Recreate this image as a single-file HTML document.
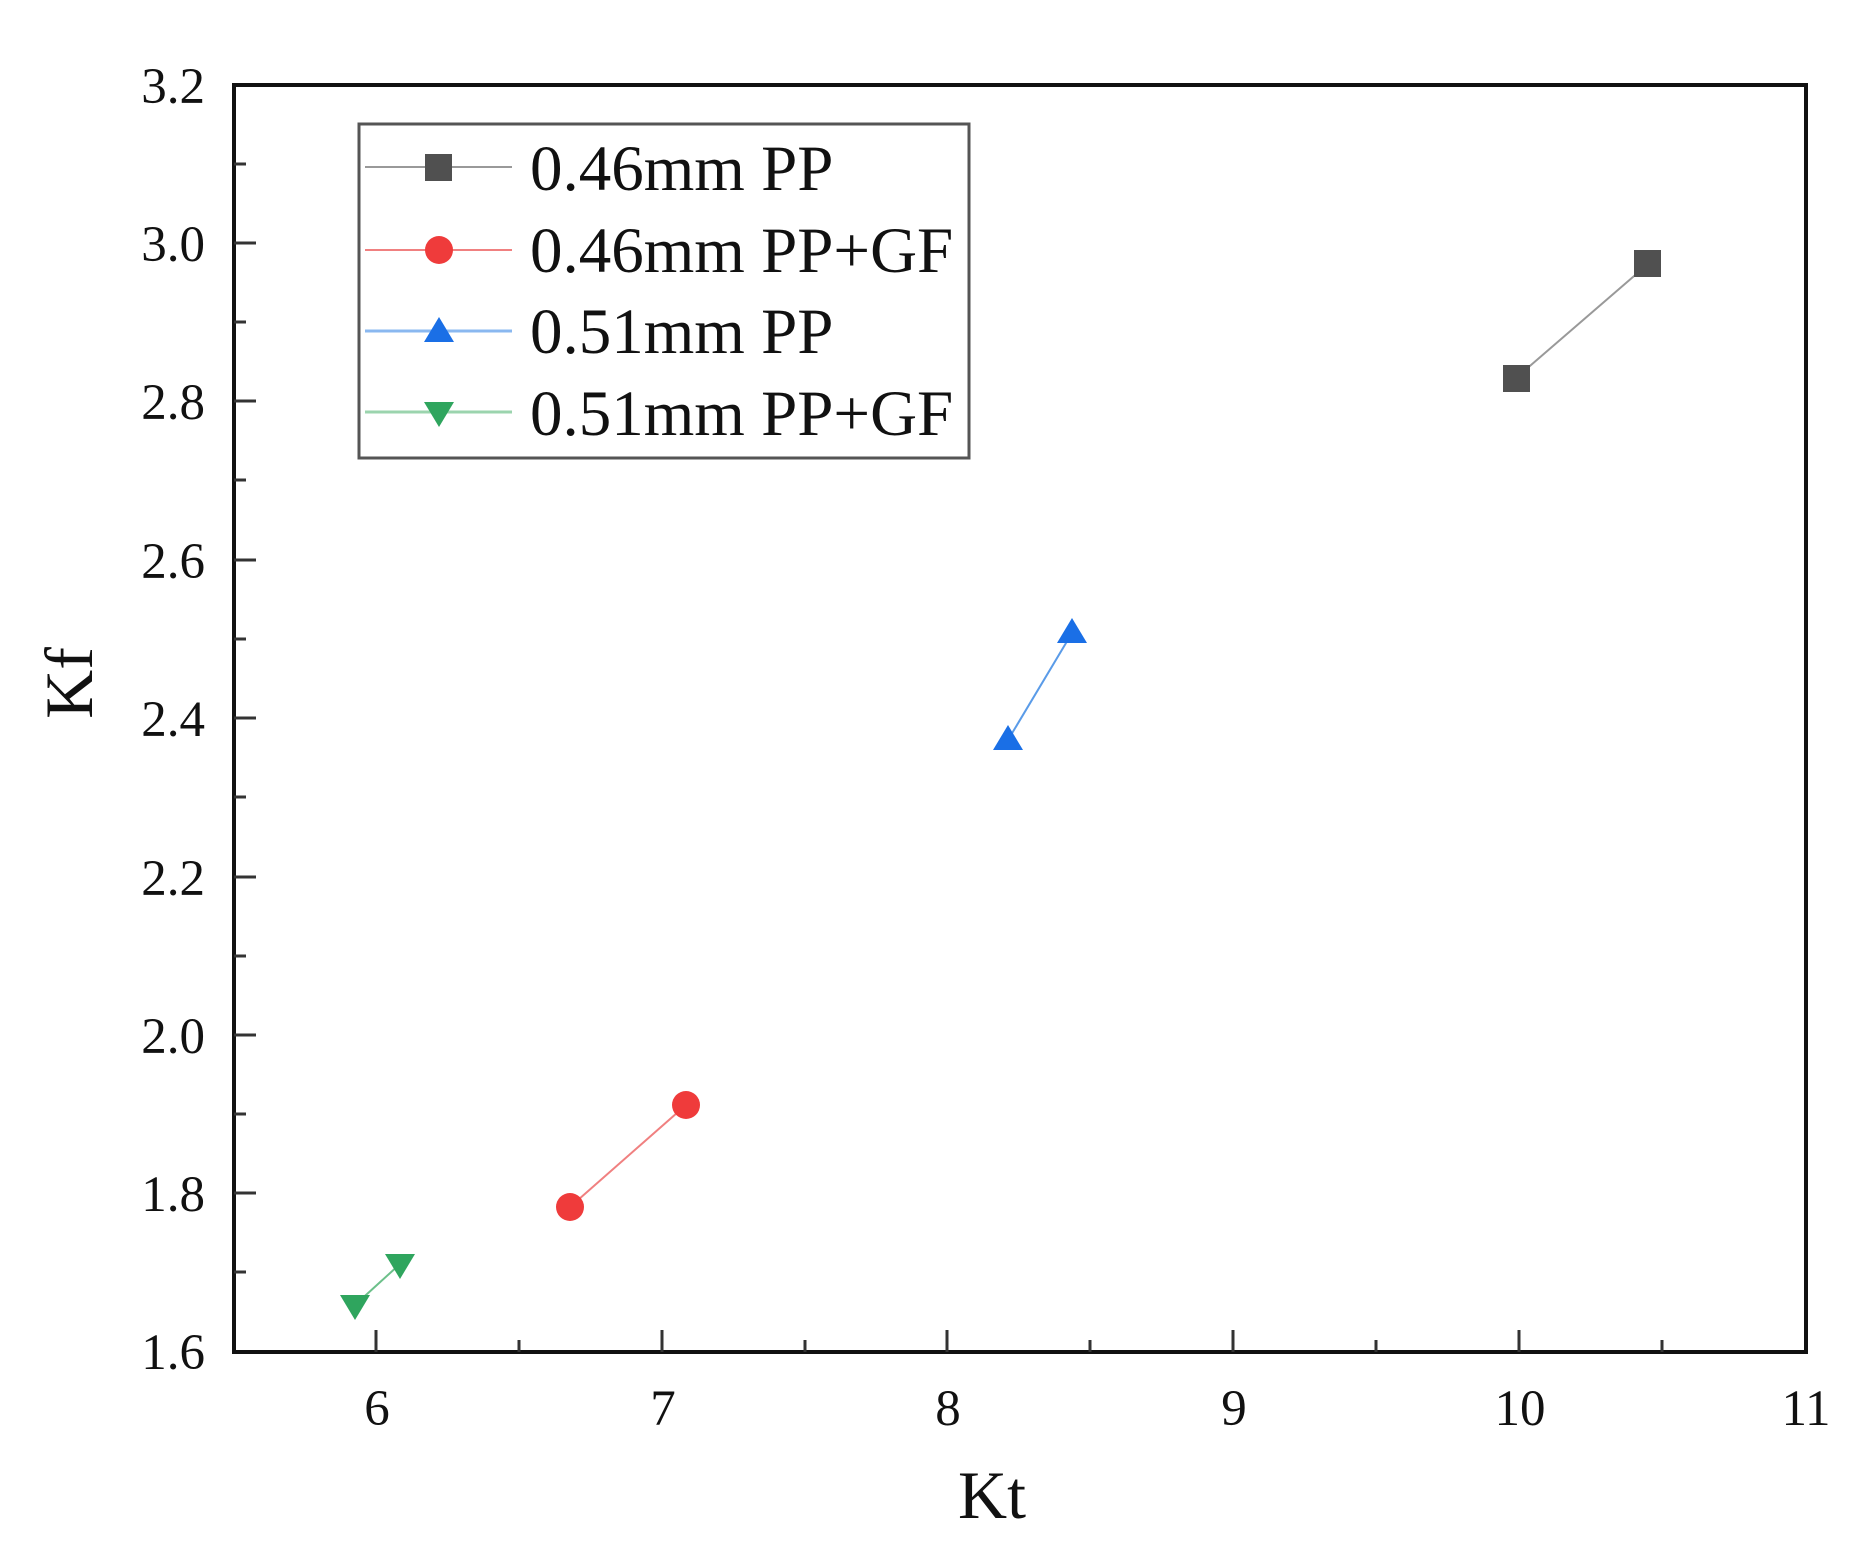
<!DOCTYPE html>
<html><head><meta charset="utf-8"><style>
html,body{margin:0;padding:0;background:#fff;}
svg{display:block;}
text{font-family:"Liberation Serif",serif;fill:#111;}
</style></head><body>
<svg width="1854" height="1547" viewBox="0 0 1854 1547" xmlns="http://www.w3.org/2000/svg">
<rect width="1854" height="1547" fill="#fff"/>
<rect x="234" y="85" width="1572" height="1267" fill="none" stroke="#111" stroke-width="4"/>
<g stroke="#333" stroke-width="3">
<line x1="376" y1="1352" x2="376" y2="1330"/>
<line x1="662" y1="1352" x2="662" y2="1330"/>
<line x1="947" y1="1352" x2="947" y2="1330"/>
<line x1="1233" y1="1352" x2="1233" y2="1330"/>
<line x1="1519" y1="1352" x2="1519" y2="1330"/>
<line x1="519" y1="1352" x2="519" y2="1340"/>
<line x1="805" y1="1352" x2="805" y2="1340"/>
<line x1="1090" y1="1352" x2="1090" y2="1340"/>
<line x1="1376" y1="1352" x2="1376" y2="1340"/>
<line x1="1662" y1="1352" x2="1662" y2="1340"/>
<line x1="234" y1="1193" x2="256" y2="1193"/>
<line x1="234" y1="1035" x2="256" y2="1035"/>
<line x1="234" y1="877" x2="256" y2="877"/>
<line x1="234" y1="718" x2="256" y2="718"/>
<line x1="234" y1="560" x2="256" y2="560"/>
<line x1="234" y1="401" x2="256" y2="401"/>
<line x1="234" y1="243" x2="256" y2="243"/>
<line x1="234" y1="1272" x2="246" y2="1272"/>
<line x1="234" y1="1114" x2="246" y2="1114"/>
<line x1="234" y1="956" x2="246" y2="956"/>
<line x1="234" y1="797" x2="246" y2="797"/>
<line x1="234" y1="639" x2="246" y2="639"/>
<line x1="234" y1="480" x2="246" y2="480"/>
<line x1="234" y1="322" x2="246" y2="322"/>
<line x1="234" y1="164" x2="246" y2="164"/>
</g>
<g font-size="51" text-anchor="end">
<text x="205" y="1369">1.6</text>
<text x="205" y="1211">1.8</text>
<text x="205" y="1053">2.0</text>
<text x="205" y="895">2.2</text>
<text x="205" y="736">2.4</text>
<text x="205" y="578">2.6</text>
<text x="205" y="419">2.8</text>
<text x="205" y="261">3.0</text>
<text x="205" y="103">3.2</text>
</g>
<g font-size="51" text-anchor="middle">
<text x="377" y="1425">6</text>
<text x="663" y="1425">7</text>
<text x="948" y="1425">8</text>
<text x="1234" y="1425">9</text>
<text x="1520" y="1425">10</text>
<text x="1806" y="1425">11</text>
</g>
<text x="992" y="1518" font-size="68" text-anchor="middle">Kt</text>
<text transform="translate(92,683) rotate(-90)" font-size="68" text-anchor="middle">Kf</text>
<line x1="1516" y1="378" x2="1648" y2="264" stroke="#999" stroke-width="2"/>
<rect x="1503" y="365" width="27" height="27" fill="#505050"/>
<rect x="1634" y="250" width="27" height="27" fill="#505050"/>
<line x1="570" y1="1207" x2="686" y2="1105" stroke="#f08080" stroke-width="2"/>
<circle cx="570" cy="1207" r="14" fill="#ef3b3b"/>
<circle cx="686" cy="1105" r="14" fill="#ef3b3b"/>
<line x1="1008" y1="740" x2="1072" y2="633" stroke="#5a9be8" stroke-width="2"/>
<polygon points="1008,725 993,750 1023,750" fill="#1a6fe6"/>
<polygon points="1072,618 1057,643 1087,643" fill="#1a6fe6"/>
<line x1="355" y1="1305" x2="400" y2="1264" stroke="#6cc08a" stroke-width="2"/>
<polygon points="340,1295 370,1295 355,1320" fill="#2fa55e"/>
<polygon points="385,1254 415,1254 400,1279" fill="#2fa55e"/>
<rect x="359" y="124" width="610" height="334" fill="#fff" stroke="#555" stroke-width="3"/>
<line x1="365" y1="167" x2="512" y2="167" stroke="#999" stroke-width="2"/>
<rect x="425" y="154" width="27" height="27" fill="#505050"/>
<line x1="365" y1="250" x2="512" y2="250" stroke="#f08080" stroke-width="2"/>
<circle cx="439" cy="250" r="14" fill="#ef3b3b"/>
<line x1="365" y1="331" x2="512" y2="331" stroke="#8ab8f0" stroke-width="3"/>
<polygon points="439,317 424,342 454,342" fill="#1a6fe6"/>
<line x1="365" y1="412" x2="512" y2="412" stroke="#9bd4ae" stroke-width="3"/>
<polygon points="424,402 454,402 439,427" fill="#2fa55e"/>
<g font-size="65">
<text x="530" y="190">0.46mm PP</text>
<text x="530" y="272">0.46mm PP+GF</text>
<text x="530" y="353">0.51mm PP</text>
<text x="530" y="435">0.51mm PP+GF</text>
</g>
</svg>
</body></html>
